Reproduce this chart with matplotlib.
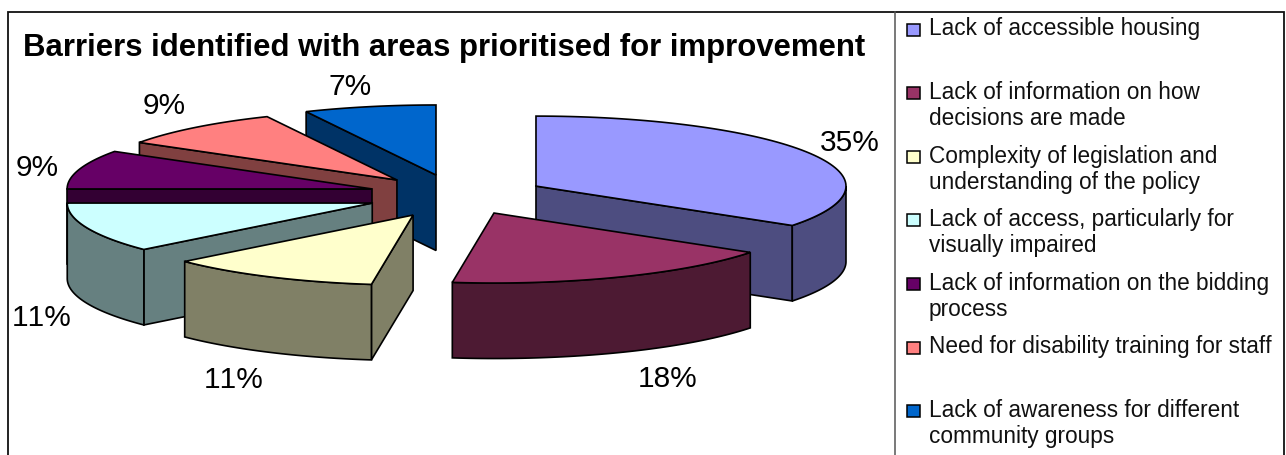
import numpy as np
import matplotlib
matplotlib.use("Agg")
import matplotlib.pyplot as plt
from matplotlib.patches import Polygon, Rectangle

# Survey results
title = "Barriers identified with areas prioritised for improvement"
categories = [
    "Lack of accessible housing",
    "Lack of information on how\ndecisions are made",
    "Complexity of legislation and\nunderstanding of the policy",
    "Lack of access, particularly for\nvisually impaired",
    "Lack of information on the bidding\nprocess",
    "Need for disability training for staff",
    "Lack of awareness for different\ncommunity groups",
]
values = [35, 18, 11, 11, 9, 9, 7]

# Slice styling
top_colors = ["#9999FF", "#993366", "#FFFFCC", "#CCFFFF", "#660066", "#FF8080", "#0066CC"]
side_colors = ["#4D4D80", "#4D1A33", "#808066", "#668080", "#330033", "#804040", "#003366"]

# Exploded pie layout, in pixels of the canvas
CENTER = (465.0, 195.0)
RX_RIGHT, RX_LEFT, RY = 310.0, 305.0, 70.0
DEPTH = 75.5
FORESHORTEN = np.radians(3.0)
explode_x = [0.257, 0.254, 0.329, 0.318, 0.312, 0.332, 0.429]
explode_y = [0.280, 0.277, 0.333, 0.340, 0.310, 0.286, 0.293]
label_xy = [(850, 143), (668, 379), (234, 380), (42, 318), (37, 168), (164, 106), (350, 87)]
draw_order = [6, 5, 4, 3, 2, 0, 1]

EDGE = "black"
LW = 1.2

plt.rcParams["font.family"] = ["Liberation Sans", "DejaVu Sans"]
plt.rcParams["text.kerning_factor"] = 6

fig = plt.figure(figsize=(12.86, 4.55), dpi=100, facecolor="white")
ax = fig.add_axes([0, 0, 1, 1])
ax.set_xlim(0, 1286)
ax.set_ylim(455, 0)
ax.axis("off")


def projected(theta):
    # Slight perspective shift of the rim on the half nearest the viewer.
    if np.pi / 2 < theta < 3 * np.pi / 2:
        return theta - FORESHORTEN * np.sin(theta - np.pi / 2)
    return theta


def rim(apex, theta):
    """Point on the top rim of a slice, theta clockwise from 12 o'clock (radians)."""
    t = projected(theta)
    rx = RX_RIGHT if np.sin(t) >= 0 else RX_LEFT
    return np.array([apex[0] + rx * np.sin(t), apex[1] - RY * np.cos(t)])


def face(points, color, z):
    ax.add_patch(Polygon(points, closed=True, facecolor=color, edgecolor=EDGE,
                         linewidth=LW, joinstyle="miter", zorder=z))


def wall_is_front(theta, mid):
    # Outward normal of a radial wall, in plan view; +y points at the viewer.
    d = np.array([np.sin(theta), -np.cos(theta)])
    n = np.array([-d[1], d[0]])
    inward = np.array([np.sin(mid), -np.cos(mid)])
    if n @ inward > 0:
        n = -n
    return n[1] > 1e-6


edges = np.radians(np.concatenate([[0], np.cumsum(values)]) * 3.6)
z = 2
for i in draw_order:
    a, b = edges[i], edges[i + 1]
    mid = (a + b) / 2
    apex = np.array([
        CENTER[0] + explode_x[i] * RX_RIGHT * np.sin(mid),
        CENTER[1] - explode_y[i] * RY * np.cos(mid),
    ])
    down = np.array([0, DEPTH])

    # Radial walls
    for t in (a, b):
        if wall_is_front(t, mid):
            p = rim(apex, t)
            face([apex, p, p + down, apex + down], side_colors[i], z)
            z += 1

    # Curved outer wall on the viewer's side
    lo, hi = max(a, np.pi / 2), min(b, 3 * np.pi / 2)
    if hi > lo:
        ts = np.linspace(lo, hi, 60)
        upper = np.array([rim(apex, t) for t in ts])
        face(np.vstack([upper, upper[::-1] + down]), side_colors[i], z)
        z += 1

    # Top face
    ts = np.linspace(a, b, 80)
    face(np.vstack([[apex], [rim(apex, t) for t in ts]]), top_colors[i], z)
    z += 1

# Value labels
for v, (x, y) in zip(values, label_xy):
    ax.text(x, y, f"{v}%", fontsize=21.5, ha="center", va="center", color="black", zorder=100)

ax.text(23, 48, title, fontsize=22.4, fontweight="bold", ha="left", va="center",
        color="black", zorder=100)

# Frame and legend divider
ax.plot([8, 8, 1284, 1284], [456, 11.5, 11.5, 456], color="#111111", lw=1.3, zorder=90,
        solid_joinstyle="miter")
ax.plot([895, 895], [11.5, 456], color="#555555", lw=1.1, zorder=90)

# Legend
legend_top = 29.0
legend_step = 63.6
for i, (name, color) in enumerate(zip(categories, top_colors)):
    y = legend_top + i * legend_step
    ax.add_patch(Rectangle((907, y - 5.5), 13, 12, facecolor=color, edgecolor=EDGE,
                           linewidth=1.1, zorder=95))
    for k, line in enumerate(name.split("\n")):
        ax.text(929, y + k * 26, line, fontsize=16.3, ha="left", va="center",
                color="#111111", zorder=95)

fig.savefig("out.png", dpi=100, facecolor="white")
